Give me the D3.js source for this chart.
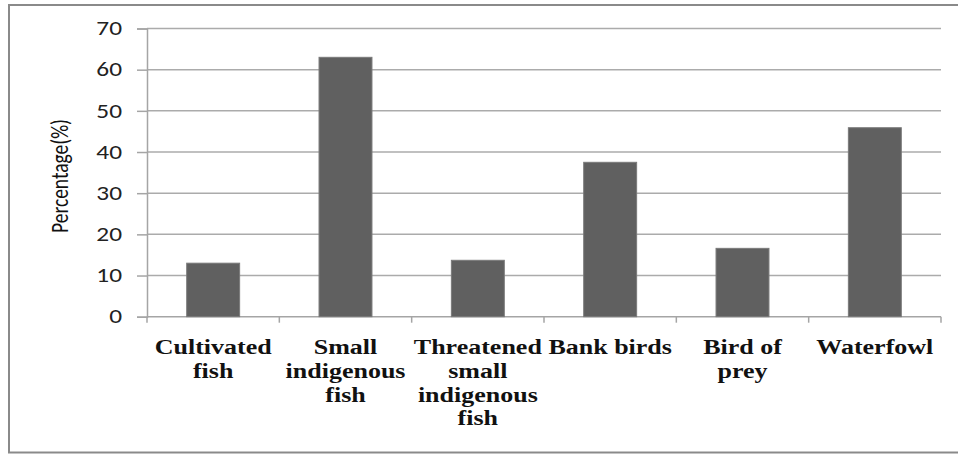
<!DOCTYPE html>
<head>
<meta charset="utf-8">
<style>
  body { margin: 0; background: #fff; }
  svg { display: block; }
</style>
</head>
<body>
<div id="bar"></div>
<script src="https://d3js.org/d3.v7.min.js"></script>
<script>
// chart data
var categories = ["Cultivated fish", "Small indigenous fish", "Threatened small indigenous fish",
                  "Bank birds", "Bird of prey", "Waterfowl"];
var labelLines = [["Cultivated", "fish"], ["Small", "indigenous", "fish"],
                  ["Threatened", "small", "indigenous", "fish"], ["Bank birds"],
                  ["Bird of", "prey"], ["Waterfowl"]];
var percentages = [13, 63, 13.7, 37.5, 16.6, 45.9];
var yTicks = [0, 10, 20, 30, 40, 50, 60, 70];

var W = 958, H = 455;
var margin = {top: 28.5, right: 17, bottom: 138.3, left: 147},
    width = W - margin.left - margin.right,
    height = H - margin.top - margin.bottom;

var sansFont = "Carlito, Lato, 'Open Sans', sans-serif";
var serifFont = "'Liberation Serif', 'Times New Roman', serif";

var svg = d3.select("#bar").append("svg")
    .attr("width", W)
    .attr("height", H);

// outer frame (right side runs off the picture)
svg.append("rect")
    .attr("x", 9).attr("y", 5)
    .attr("width", 970).attr("height", 447.5)
    .attr("fill", "none")
    .attr("stroke", "#8a8a8a")
    .attr("stroke-width", 2);

var g = svg.append("g")
    .attr("transform", "translate(" + margin.left + "," + margin.top + ")");

var x = d3.scaleBand()
    .domain(categories)
    .range([0, width])
    .paddingInner(0.6)
    .paddingOuter(0.3);
var y = d3.scaleLinear()
    .domain([0, 70])
    .range([height, 0]);

// horizontal gridlines
g.selectAll(".grid")
    .data(yTicks.filter(function(d) { return d > 0; }))
  .enter().append("line")
    .attr("x1", 0).attr("x2", width)
    .attr("y1", function(d) { return y(d); })
    .attr("y2", function(d) { return y(d); })
    .attr("stroke", "#ababab")
    .attr("stroke-width", 1.5);

// y axis
var yAxis = g.append("g")
    .call(d3.axisLeft(y).tickValues(yTicks).tickSize(10).tickPadding(15));
yAxis.select(".domain").attr("stroke", "#a5a5a5").attr("stroke-width", 1.5);
yAxis.selectAll(".tick line").attr("stroke", "#a5a5a5").attr("stroke-width", 1.5);
yAxis.selectAll(".tick text")
    .style("font-family", sansFont)
    .style("font-size", "19.5px")
    .attr("fill", "#222")
    .attr("transform", function() {
      var tx = +d3.select(this).attr("x");
      return "translate(" + tx + ",0) scale(1.3,1) translate(" + (-tx) + ",0)";
    });

// x axis: boundary ticks between categories
var step = x.step();
var xAxisG = g.append("g")
    .attr("transform", "translate(0," + height + ")");
xAxisG.append("line")
    .attr("x1", 0).attr("x2", width)
    .attr("stroke", "#a5a5a5").attr("stroke-width", 1.5);
xAxisG.selectAll(".xtick")
    .data(d3.range(categories.length + 1))
  .enter().append("line")
    .attr("x1", function(i) { return i * step; })
    .attr("x2", function(i) { return i * step; })
    .attr("y1", 0).attr("y2", 6)
    .attr("stroke", "#a5a5a5").attr("stroke-width", 1.5);

// bars
g.selectAll(".bar")
    .data(percentages)
  .enter().append("rect")
    .attr("class", "bar")
    .attr("x", function(d, i) { return x(categories[i]); })
    .attr("width", x.bandwidth())
    .attr("y", function(d) { return y(d); })
    .attr("height", function(d) { return height - y(d); })
    .attr("fill", "#606060")
    .attr("stroke", "#7a7a7a")
    .attr("stroke-width", 1);

// category labels (bold serif, stretched like the original)
var labels = g.selectAll(".xlabel")
    .data(labelLines)
  .enter().append("g")
    .attr("transform", function(d, i) {
      return "translate(" + (x(categories[i]) + x.bandwidth() / 2) + "," + (height + 37.5) + ") scale(1.3,1)";
    });
labels.selectAll("text")
    .data(function(d) { return d; })
  .enter().append("text")
    .attr("y", function(d, i) { return i * 23.7; })
    .attr("text-anchor", "middle")
    .style("font-family", serifFont)
    .style("font-weight", "bold")
    .style("font-size", "20px")
    .attr("fill", "#111")
    .text(function(d) { return d; });

// y axis title
svg.append("text")
    .attr("text-anchor", "middle")
    .attr("transform", "translate(68,176) scale(1.3,1) rotate(-90)")
    .style("font-family", sansFont)
    .style("font-size", "19.5px")
    .attr("fill", "#111")
    .text("Percentage(%)");
</script>
</body>
</html>
